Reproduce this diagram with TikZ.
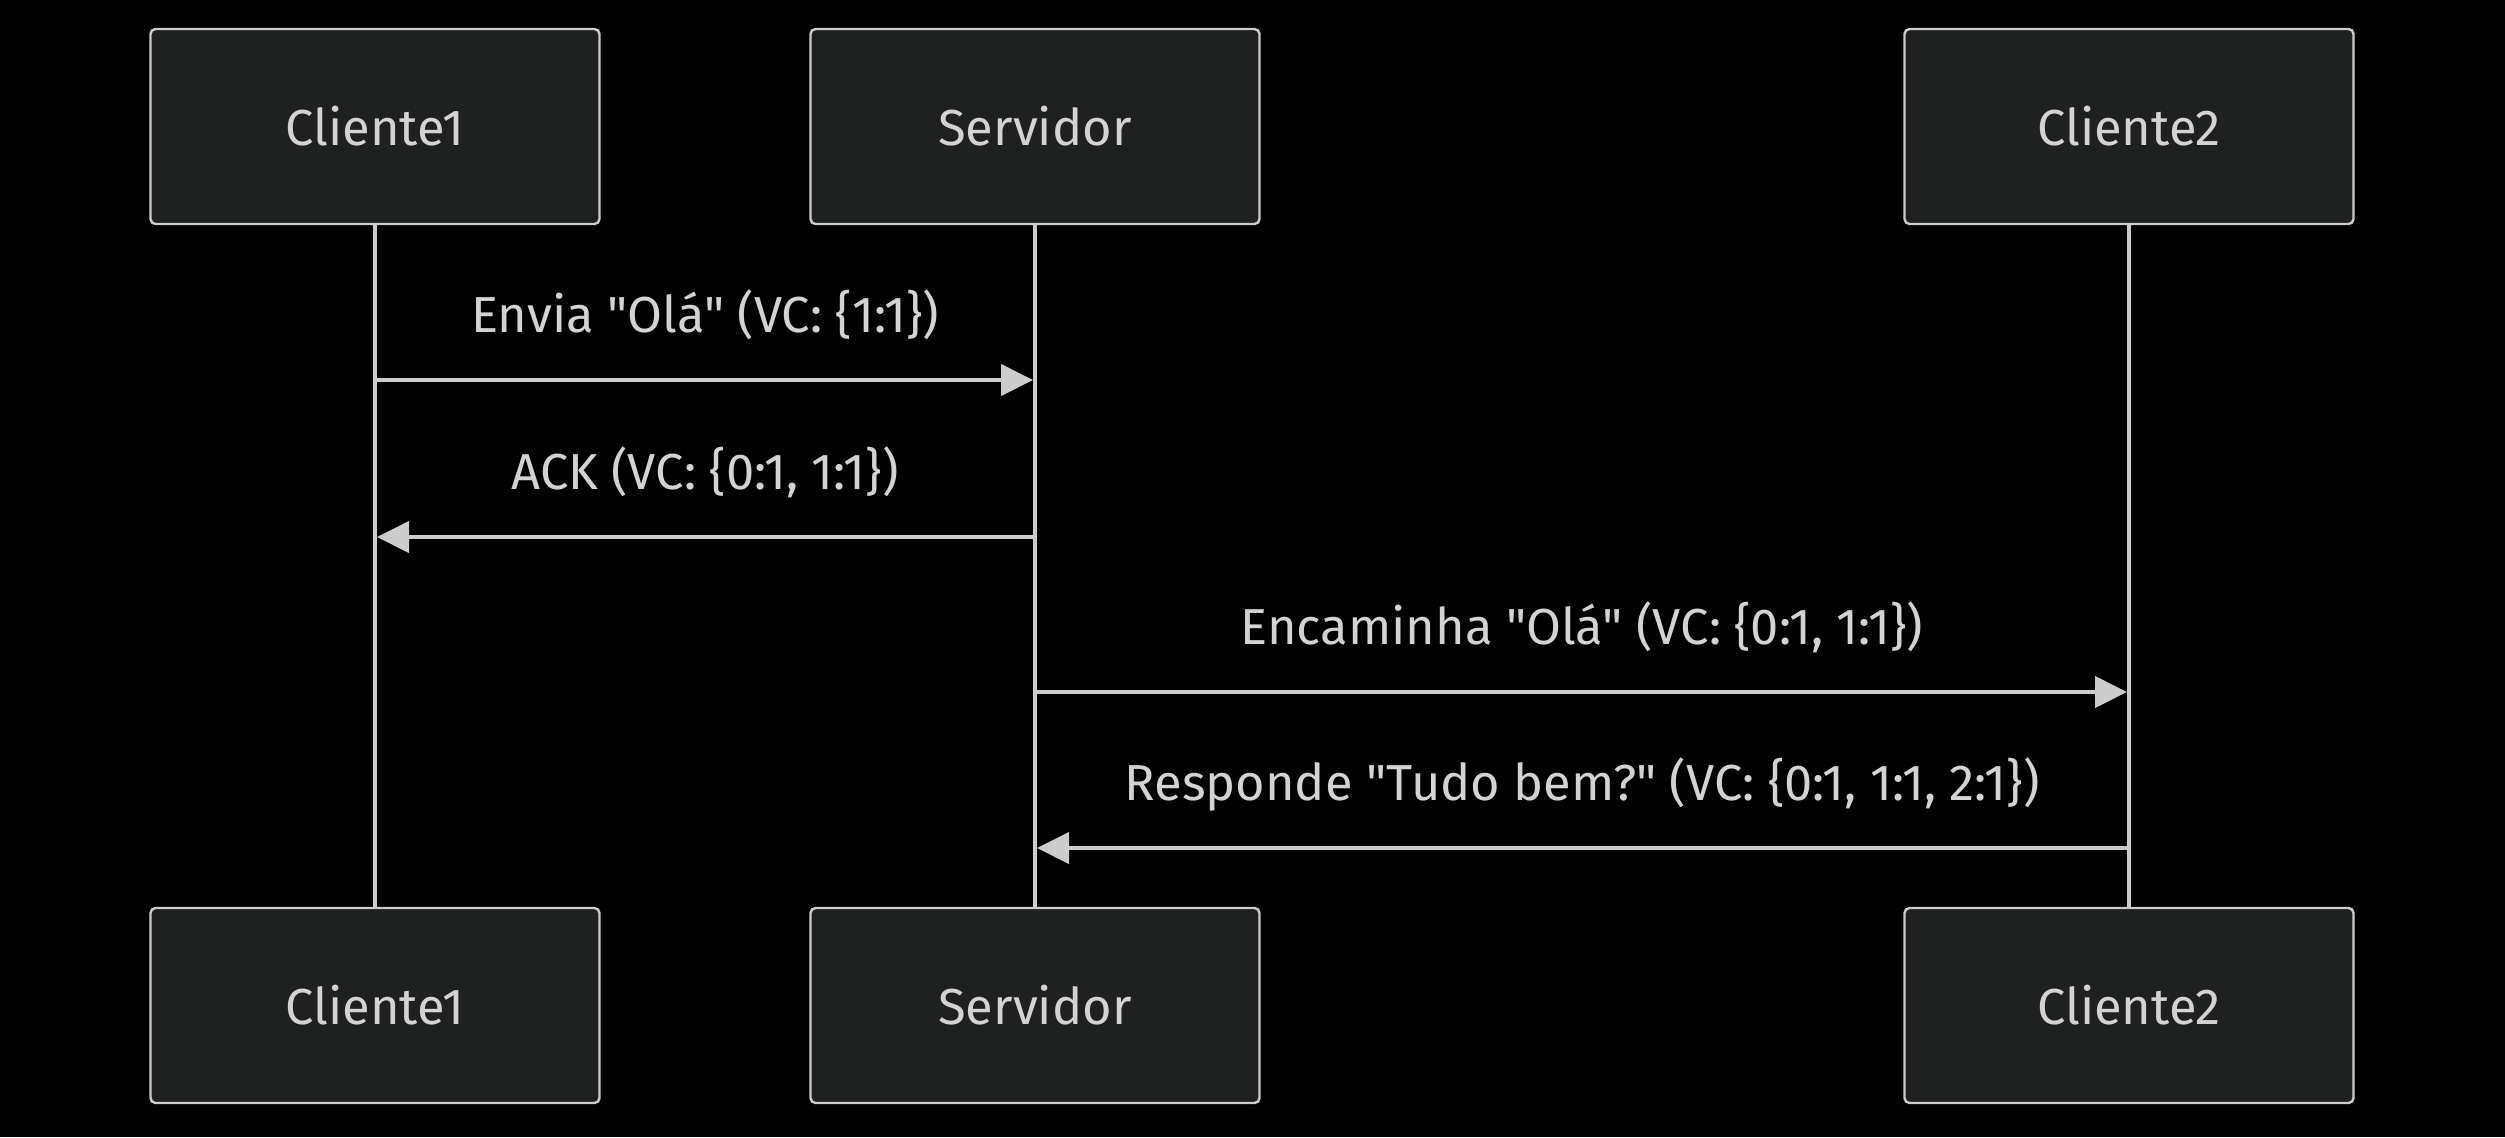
\documentclass[tikz,border=0pt]{standalone}
\usepackage{fontspec}
\setmainfont{Fira Sans}[Ligatures=TeXOff]
\usetikzlibrary{arrows.meta}
\definecolor{fg}{HTML}{CCCCCC}
\definecolor{txt}{HTML}{D3D3D3}
\definecolor{boxfill}{HTML}{1F2020}
\begin{document}
\begin{tikzpicture}[x=0.5pt,y=-0.5pt,
  actor/.style={draw=fg, fill=boxfill, line width=1.2pt, rounded corners=2.5pt,
    minimum width=224.5pt, minimum height=97.5pt, text=txt,
    font=\fontsize{25.3}{30}\selectfont, inner sep=0pt},
  lifeline/.style={draw=fg, line width=2.2pt},
  msg/.style={draw=fg, line width=2pt, -{Triangle[length=16pt,width=15.5pt]}, shorten >=1pt},
  lbl/.style={text=txt, font=\fontsize{25.3}{30}\selectfont, anchor=base, inner sep=0pt}]
\fill[black] (0,0) rectangle (2505,1137);
\useasboundingbox (0,0) rectangle (2505,1137);
% actors
\node[actor] (c1t) at (375,126.5) {Cliente1};
\node[actor] (svt) at (1035,126.5) {Servidor};
\node[actor] (c2t) at (2129,126.5) {Cliente2};
% lifelines (drawn before bottom boxes)
\coordinate (c1end) at (375,909);
\coordinate (svend) at (1035,909);
\coordinate (c2end) at (2129,909);
\draw[lifeline] (c1t.south) -- (c1end);
\draw[lifeline] (svt.south) -- (svend);
\draw[lifeline] (c2t.south) -- (c2end);
\node[actor] (c1b) at (375,1005.5) {Cliente1};
\node[actor] (svb) at (1035,1005.5) {Servidor};
\node[actor] (c2b) at (2129,1005.5) {Cliente2};
% message anchor points
\coordinate (m1a) at (375,380);  \coordinate (m1b) at (1035,380);
\coordinate (m2a) at (1035,537); \coordinate (m2b) at (375,537);
\coordinate (m3a) at (1035,692); \coordinate (m3b) at (2129,692);
\coordinate (m4a) at (2129,848); \coordinate (m4b) at (1035,848);
% messages
\draw[msg] (m1a) -- (m1b);
\node[lbl] (l1) at (705,332) {Envia "Olá" (VC: \{1:1\})};
\draw[msg] (m2a) -- (m2b);
\node[lbl] (l2) at (705,489) {ACK (VC: \{0:1, 1:1\})};
\draw[msg] (m3a) -- (m3b);
\node[lbl] (l3) at (1582,644) {Encaminha "Olá" (VC: \{0:1, 1:1\})};
\draw[msg] (m4a) -- (m4b);
\node[lbl] (l4) at (1582,800) {Responde "Tudo bem?" (VC: \{0:1, 1:1, 2:1\})};
\end{tikzpicture}
\end{document}
